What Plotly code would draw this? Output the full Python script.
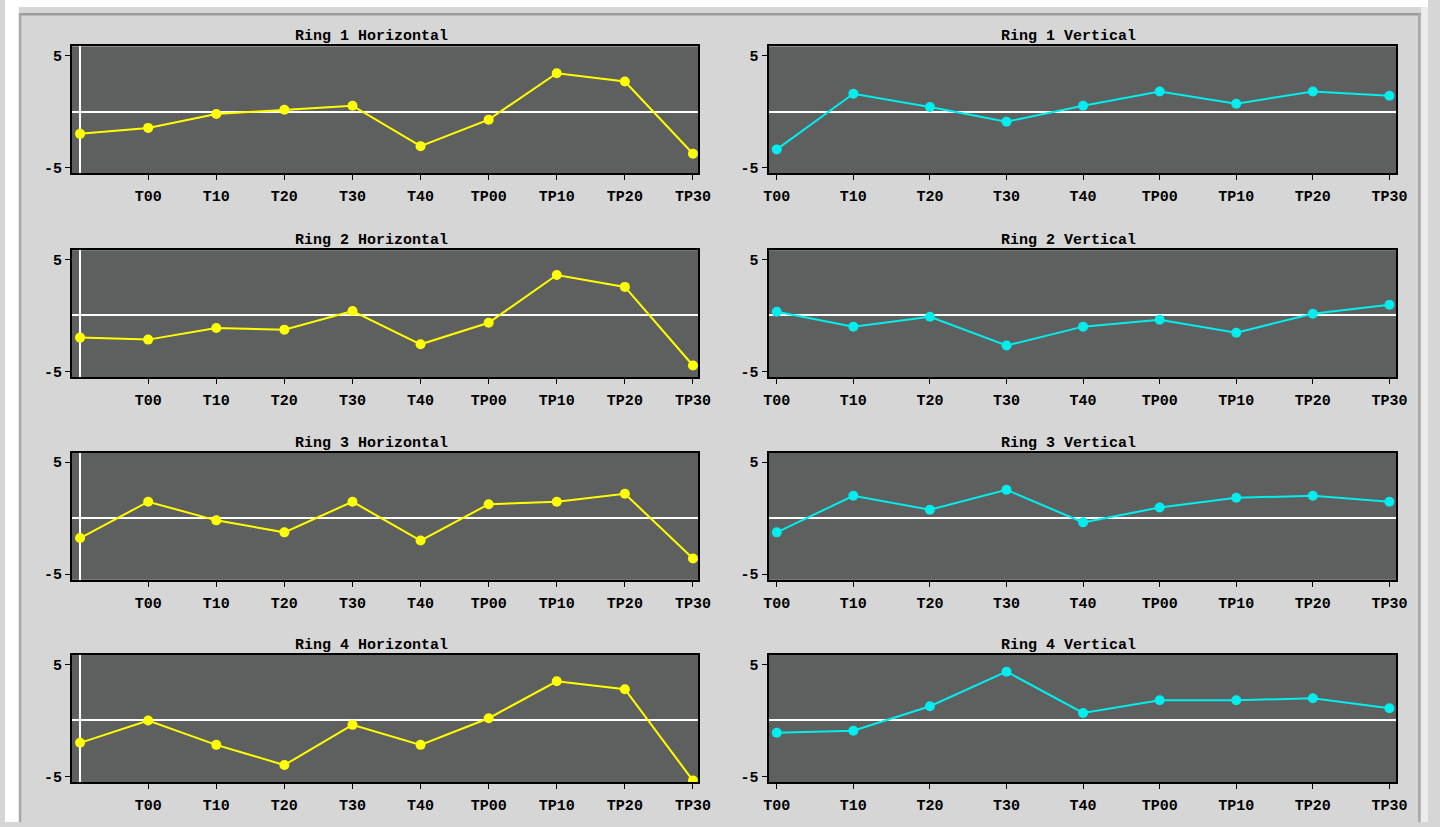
import plotly.graph_objects as go

# ---------------- data ----------------
h_labels = ["", "T00", "T10", "T20", "T30", "T40", "TP00", "TP10", "TP20", "TP30"]
v_labels = ["T00", "T10", "T20", "T30", "T40", "TP00", "TP10", "TP20", "TP30"]

ring1_h = [-1.98, -1.45, -0.20, 0.18, 0.53, -3.08, -0.71, 3.44, 2.69, -3.76]
ring2_h = [-1.98, -2.16, -1.12, -1.27, 0.39, -2.58, -0.65, 3.61, 2.55, -4.47]
ring3_h = [-1.78, 1.46, -0.20, -1.27, 1.46, -2.00, 1.24, 1.46, 2.17, -3.61]
ring4_h = [-1.99, 0.00, -2.17, -3.97, -0.39, -2.17, 0.20, 3.49, 2.78, -5.35]

ring1_v = [-3.37, 1.60, 0.42, -0.89, 0.53, 1.80, 0.71, 1.80, 1.42]
ring2_v = [0.33, -1.00, -0.12, -2.69, -1.00, -0.38, -1.54, 0.15, 0.95]
ring3_v = [-1.27, 1.99, 0.75, 2.52, -0.38, 0.95, 1.81, 1.99, 1.46]
ring4_v = [-1.10, -0.92, 1.27, 4.35, 0.67, 1.80, 1.80, 1.98, 1.09]

titles_h = ["Ring 1 Horizontal", "Ring 2 Horizontal", "Ring 3 Horizontal", "Ring 4 Horizontal"]
titles_v = ["Ring 1 Vertical", "Ring 2 Vertical", "Ring 3 Vertical", "Ring 4 Vertical"]
h_series = [ring1_h, ring2_h, ring3_h, ring4_h]
v_series = [ring1_v, ring2_v, ring3_v, ring4_v]

# ---------------- layout geometry (reference pixels, used as fractions) ----------------
W, H = 1440, 827
col_px = [(67.7, 701.7), (772.7, 1407.7)]
row_px = [(46.7, 174.3), (251.7, 379.3), (455.5, 583.3), (659.0, 787.0)]
title_x = [371, 1076]

PLOT_BG = "#5e5f5f"
PAPER_BG = "#d6d6d6"
YELLOW = "#ffff00"
CYAN = "#00eeee"
FONT = "Liberation Mono"

fig = go.Figure()
layout = dict(
    autosize=True, margin=dict(l=0, r=0, t=0, b=0, pad=0),
    paper_bgcolor=PAPER_BG, plot_bgcolor=PLOT_BG, showlegend=False,
    font=dict(family=FONT, size=15, color="black"),
)
annotations = []

def px_x(p):
    return p / W

def px_y(p):
    return 1 - p / H

for r in range(4):
    for c in range(2):
        i = r * 2 + c + 1
        sfx = "" if i == 1 else str(i)
        labels = h_labels if c == 0 else v_labels
        vals = h_series[r] if c == 0 else v_series[r]
        color = YELLOW if c == 0 else CYAN
        xs = list(range(len(labels)))
        fig.add_trace(go.Scatter(
            x=xs, y=vals, mode="lines+markers",
            line=dict(color=color, width=2),
            marker=dict(color=color, size=10),
            xaxis="x" + sfx, yaxis="y" + sfx, hoverinfo="skip",
        ))
        if c == 0:
            xrange = [-0.12, 9.08]
            tickvals = xs[1:]
            ticktext = labels[1:]
        else:
            xrange = [-0.107, 8.087]
            tickvals = xs
            ticktext = labels
        layout["xaxis" + sfx] = dict(
            domain=[px_x(col_px[c][0]), px_x(col_px[c][1])],
            anchor="y" + sfx, range=xrange,
            tickmode="array", tickvals=tickvals, ticktext=ticktext,
            showgrid=False, zeroline=(c == 0), zerolinecolor="white", zerolinewidth=2,
            showline=True, linecolor="black", linewidth=2, mirror=True,
            ticks="outside", ticklen=5, tickwidth=1, tickcolor="black",
            ticklabelstandoff=3,
            tickfont=dict(family=FONT, size=15, color="black", weight="bold"),
            fixedrange=True,
        )
        layout["yaxis" + sfx] = dict(
            domain=[px_y(row_px[r][1]), px_y(row_px[r][0])],
            anchor="x" + sfx, range=[-5.5, 5.83],
            tickmode="array", tickvals=[-5, 5], ticktext=["-5", "5"],
            showgrid=False, zeroline=True, zerolinecolor="white", zerolinewidth=2,
            showline=True, linecolor="black", linewidth=2, mirror=True,
            ticks="outside", ticklen=5, tickwidth=1, tickcolor="black",
            tickfont=dict(family=FONT, size=15, color="black", weight="bold"),
            fixedrange=True,
        )
        annotations.append(dict(
            text=(titles_h if c == 0 else titles_v)[r],
            x=px_x(title_x[c]), y=px_y(row_px[r][0] + 1),
            xref="paper", yref="paper", xanchor="center", yanchor="bottom",
            showarrow=False, font=dict(family=FONT, size=15, color="black", weight="bold"),
        ))

shapes = [
    # white surrounding strips (window frame)
    dict(type="rect", xref="paper", yref="paper", x0=0, x1=1, y0=px_y(7), y1=1,
         fillcolor="white", line=dict(width=0), layer="below"),
    dict(type="rect", xref="paper", yref="paper", x0=0, x1=px_x(14), y0=0, y1=1,
         fillcolor="white", line=dict(width=0), layer="below"),
    dict(type="rect", xref="paper", yref="paper", x0=px_x(1433), x1=1, y0=0, y1=px_y(7),
         fillcolor="#ececec", line=dict(width=0), layer="below"),
    # frame lines
    dict(type="rect", xref="paper", yref="paper", x0=px_x(14), x1=px_x(1433), y0=px_y(13), y1=px_y(15.5),
         fillcolor="#9c9c9c", line=dict(width=0), layer="below"),
    dict(type="rect", xref="paper", yref="paper", x0=px_x(14), x1=px_x(16.5), y0=0, y1=px_y(13),
         fillcolor="#a8a8a8", line=dict(width=0), layer="below"),
    dict(type="rect", xref="paper", yref="paper", x0=px_x(1430), x1=px_x(1432.5), y0=0, y1=px_y(13),
         fillcolor="#a8a8a8", line=dict(width=0), layer="below"),
]
layout["annotations"] = annotations
layout["shapes"] = shapes
fig.update_layout(**layout)

post = """
document.documentElement.style.margin='0';
document.documentElement.style.overflow='hidden';
document.body.style.margin='0';
document.body.style.padding='0';
document.body.style.overflow='hidden';
var gdiv = document.getElementById('{plot_id}');
gdiv.style.width='100vw';
gdiv.style.height='100vh';
Plotly.Plots.resize(gdiv);
"""
fig.write_html(
    "out.html",
    config={"displayModeBar": False, "responsive": True},
    default_width="100vw", default_height="100vh",
    post_script=post,
)
